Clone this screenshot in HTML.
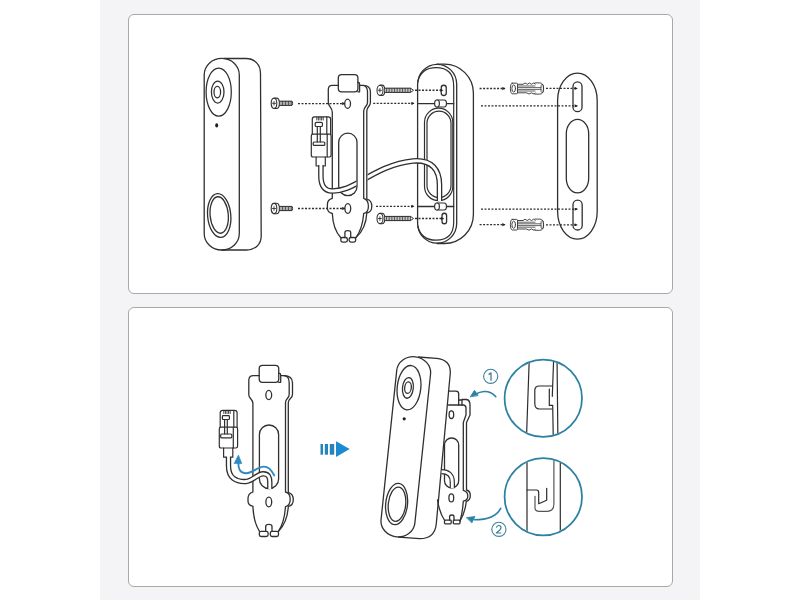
<!DOCTYPE html>
<html><head><meta charset="utf-8">
<style>
html,body{margin:0;padding:0;width:800px;height:600px;overflow:hidden;background:#fff;font-family:"Liberation Sans",sans-serif;}
#strip{position:absolute;left:100px;top:0;width:600px;height:600px;background:#f4f4f6;}
.card{position:absolute;left:128px;width:543px;height:278px;background:#fff;border:1px solid #a8a8aa;border-radius:6px;}
svg{position:absolute;left:0;top:0;}
</style></head>
<body>
<div id="strip"></div>
<div class="card" style="top:14px"></div>
<div class="card" style="top:307px"></div>
<svg width="800" height="600" viewBox="0 0 800 600" fill="none" stroke="#303030" stroke-width="1.3" stroke-linecap="round" stroke-linejoin="round">
<defs>
  <marker id="ah" viewBox="0 0 6 6" refX="5" refY="3" markerWidth="3.6" markerHeight="3.2" orient="auto" markerUnits="userSpaceOnUse">
    <path d="M0 0 L6 3 L0 6 Z" fill="#222" stroke="none"/>
  </marker>
  <g id="sscrew">
    <path d="M3 -5.2 H5.5 Q8.4 -5.2 8.4 0 Q8.4 5.2 5.5 5.2 H3" stroke-width="1.1"/>
    <ellipse cx="3" cy="0" rx="2.8" ry="5.1" stroke-width="1.1"/>
    <path d="M1.5 0 H4.5 M3 -1.8 V1.8" stroke-width="0.9"/>
    <path d="M8.4 -2.1 H21 Q21.6 -2.1 21.6 0 Q21.6 2.1 21 2.1 H8.4" stroke-width="1"/>
    <path d="M10 -2 V2 M11.5 -2 V2 M13 -2 V2 M14.5 -2 V2 M16 -2 V2 M17.5 -2 V2 M19 -2 V2 M20.4 -2 V2" stroke-width="0.8"/>
  </g>
  <g id="lscrew">
    <path d="M3.5 -5.2 H5.5 Q8.3 -5.2 8.3 0 Q8.3 5.2 5.5 5.2 H3.5" stroke-width="1.1"/>
    <ellipse cx="3.5" cy="0" rx="3" ry="5.1" stroke-width="1.1"/>
    <path d="M1.9 0 H4.9 M3.4 -1.8 V1.8" stroke-width="0.9"/>
    <path d="M8.3 -2.1 H34 L37 0 L34 2.1 H8.3" stroke-width="1"/>
    <path d="M10 -2 V2 M11.6 -2 V2 M13.2 -2 V2 M14.8 -2 V2 M16.4 -2 V2 M18 -2 V2 M19.6 -2 V2 M21.2 -2 V2 M22.8 -2 V2 M24.4 -2 V2 M26 -2 V2 M27.6 -2 V2 M29.2 -2 V2 M30.8 -2 V2 M32.4 -2 V2 M34 -2 V2" stroke-width="0.8"/>
  </g>
  <g id="anchor" stroke="#3c3c3c" stroke-width="0.95">
    <path d="M2.2 -5.3 H6.5 Q7.5 -5.3 7.5 -4 V4 Q7.5 5.3 6.5 5.3 H2.2 Q0.4 5.3 0.4 0 Q0.4 -5.3 2.2 -5.3 Z"/>
    <ellipse cx="3.7" cy="0" rx="1.8" ry="3.6"/>
    <path d="M7.5 -4.2 H13 L15.1 -5.5 L17.2 -4.2 L19.4 -5.5 L21.5 -4.2 L23.7 -5.5 L25.2 -4.4"/>
    <path d="M7.5 4.3 H16.5 L19 5.5 L21.3 4.3 L24 5.5 L25.2 4.6"/>
    <path d="M7.5 -2.5 H25 M7.5 2.5 H25" stroke-width="0.8"/>
    <path d="M25 -5.6 H29.8 Q33.6 -5.6 33.6 0 Q33.6 5.6 29.8 5.6 H25"/>
    <ellipse cx="32.2" cy="0" rx="1.3" ry="4.4" stroke-width="0.8"/>
    <path d="M7.8 -0.9 H31 M7.8 0.9 H31" stroke-width="0.8"/>
  </g>
</defs>

<!-- ============ TOP CARD ============ -->
<!-- doorbell -->
<path d="M224 58.5 H246 C254.5 58.5 260.5 64.5 260.5 73.5 L261.2 236 C261.2 244.5 255 250 246.5 250 H222"/>
<rect x="204.2" y="58.4" width="35.1" height="191.6" rx="17.55" ry="16.5"/>
<ellipse cx="218.7" cy="92.1" rx="12.6" ry="24.1" stroke-width="1.25"/>
<ellipse cx="217.7" cy="92" rx="6.3" ry="11" stroke-width="1.25"/>
<ellipse cx="217.3" cy="92.1" rx="3.3" ry="5.8" stroke-width="1.25"/>
<ellipse cx="216.7" cy="125.4" rx="1.5" ry="2.1" fill="#1e1e1e" stroke="none"/>
<ellipse cx="219.2" cy="215.5" rx="11.6" ry="22" transform="rotate(-5 219.2 215.5)"/>
<ellipse cx="219.2" cy="215" rx="9.1" ry="18.3" transform="rotate(-5 219.2 215)"/>

<!-- short screws -->
<use href="#sscrew" x="271" y="103.3"/>
<use href="#sscrew" x="271" y="208.5"/>
<g stroke-width="1.3" stroke-dasharray="2 1.5" stroke-linecap="butt">
  <path d="M298 103.6 H344.8" marker-end="url(#ah)"/>
  <path d="M298 208.5 H344.8" marker-end="url(#ah)"/>
</g>

<!-- bracket (top) -->
<g id="br1">
<path d="M338.3 85.4 H332.3 Q328.3 85.4 328.3 89.5 V102.5 C328.3 106.5 332.3 107.5 332.3 112.2 V198.3 Q327.4 199.5 327.4 204.5 V208 Q327.4 212.5 332.3 213.5 Q333 229 340.8 237.8 M355.7 237.8 Q362.5 229 363.7 213.5 Q368.4 212.5 368.4 206.5 Q368.4 199.5 363.7 198.3 V111 C363.7 106.5 367.5 106.5 367.5 102.5 V92 Q367.5 86 363 85.4 H359.6"/>
<path d="M363 85.4 Q370.4 85.4 370.4 92 V102.5 C370.4 106.5 366.8 106.5 366.8 111 V199 Q371.8 200.5 371.8 206.2 Q371.8 212 366.8 213 Q366 229 355.7 237.8"/>
<rect x="338.3" y="74.6" width="19.6" height="17.2" rx="3.3"/>
<path d="M357.9 82.5 H358.4 Q359.6 82.5 359.6 84 V91.8 H357.9"/>
<ellipse cx="347.6" cy="103.75" rx="2.9" ry="4.6"/>
<ellipse cx="347.8" cy="208.5" rx="2.9" ry="4.8"/>
<rect x="338.7" y="133.2" width="18.3" height="62.5" rx="9.15"/>
<rect x="340.8" y="237.5" width="6.6" height="4.6" rx="1.8"/>
<rect x="349.1" y="237.5" width="6.6" height="4.6" rx="1.8"/>
<path d="M344.9 237.5 V232.5 Q344.9 230.7 347.8 230.7 Q350.7 230.7 350.7 232.5 V237.5"/>
</g>

<!-- RJ45 top -->
<g stroke-width="1.2">
<path d="M312.3 134.2 V119 Q312.3 116.8 314.5 116.8 H328.4 Q330.6 116.8 330.6 119 V134.2"/>
<path d="M326.8 117 V134.2"/>
<path d="M316.8 117.3 V120 M318.4 117.3 V120 M320 117.3 V120 M321.6 117.3 V120 M323.2 117.3 V120" stroke-width="0.9"/>
<rect x="315.2" y="122.4" width="7.2" height="4.1" rx="1"/>
<path d="M317.3 126.5 V142 M320.3 126.5 V142"/>
<path d="M311.3 155 V136 Q311.3 134.2 313 134.2 H329.4 Q331.1 134.2 331.1 136 V155 Q331.1 157 329.4 157 H313 Q311.3 157 311.3 155 Z"/>
<path d="M327.2 134.4 V156.8"/>
<rect x="313.2" y="142" width="11.6" height="3.4" rx="1"/>
<path d="M316.1 157 V166 M325.3 157 V166 M316.1 166 H325.3" stroke-width="1.2"/>
</g>

<!-- long screws -->
<use href="#lscrew" x="376.5" y="90.3"/>
<use href="#lscrew" x="376.5" y="218.5"/>
<g stroke-width="1.3" stroke-dasharray="2 1.5" stroke-linecap="butt">
  <path d="M373.2 103.4 H414" marker-end="url(#ah)"/>
  <path d="M376 206.3 H414" marker-end="url(#ah)"/>
  <path d="M415 90.25 H443" marker-end="url(#ah)"/>
  <path d="M415 218.5 H443.5" marker-end="url(#ah)"/>
</g>

<!-- wedge -->
<path d="M437 64.2 H444.5 A29 29 0 0 1 473.4 93 V214.5 A29 29 0 0 1 444.5 243.5 H437"/>
<rect x="417.6" y="64.3" width="39.1" height="178.9" rx="19.55" ry="20"/>
<path d="M417.8 82 Q421 67.7 436 67.7 Q453.7 67.7 453.7 86 V222 Q453.7 240.2 436 240.2 Q421 240.2 417.8 226" stroke-width="1.2"/>
<path d="M417.6 103.7 H453.7 M417.6 206.5 H453.7"/>
<rect x="424.5" y="108.2" width="28.3" height="92.4" rx="14.15" stroke-width="1.2"/>
<rect x="427" y="111.2" width="24" height="86.3" rx="12" stroke-width="1.2"/>
<rect x="441.25" y="85.25" width="5" height="10.25" rx="2.5"/>
<rect x="442" y="213.25" width="4.6" height="10.5" rx="2.3"/>
<!-- cable top -->
<clipPath id="cc"><path d="M0 0 H356.4 V600 H0 Z M367.6 0 H800 V600 H367.6 Z"/></clipPath>
<g clip-path="url(#cc)">
<path d="M320.9 165 V176 C320.9 186 325 191.5 333 191 C345 190.5 352 186 361 181 C375 173 392 163 413 161 C432 159.5 439.5 170 439.5 185 V201" stroke-width="5.6" stroke-linecap="butt"/>
<path d="M320.9 164 V176 C320.9 186 325 191.5 333 191 C345 190.5 352 186 361 181 C375 173 392 163 413 161 C432 159.5 439.5 170 439.5 185 V201" stroke="#fff" stroke-width="3" stroke-linecap="butt"/>
</g>

<!-- pegs -->
<g stroke-width="1.2">
<path d="M437 100 H444 Q446.5 100 446.5 103.5 Q446.5 107 444 107 H437" fill="#fff"/>
<ellipse cx="437" cy="103.5" rx="2.4" ry="3.5" fill="#fff"/>
<path d="M437 203 H444 Q446.5 203 446.5 206.5 Q446.5 210 444 210 H437" fill="#fff"/>
<ellipse cx="437" cy="206.5" rx="2.4" ry="3.5" fill="#fff"/>
</g>

<!-- anchors -->
<use href="#anchor" x="510" y="88.5"/>
<use href="#anchor" x="510" y="224.7"/>
<g stroke-width="1.3" stroke-dasharray="2 1.5" stroke-linecap="butt">
  <path d="M479.6 88.5 H505" marker-end="url(#ah)"/>
  <path d="M479.6 224.7 H505" marker-end="url(#ah)"/>
  <path d="M546 88.4 H577.3" marker-end="url(#ah)"/>
  <path d="M546 224.9 H577.3" marker-end="url(#ah)"/>
  <path d="M481 105.9 H577.3" marker-end="url(#ah)"/>
  <path d="M481 209.1 H577.3" marker-end="url(#ah)"/>
</g>

<!-- wall plate -->
<rect x="557.6" y="73.1" width="39.6" height="166" rx="19.8" ry="27.5"/>
<rect x="573" y="81.9" width="9" height="29.8" rx="4.5"/>
<rect x="566.3" y="119.3" width="22.4" height="73.5" rx="11.2" ry="14.5"/>
<rect x="573" y="200.2" width="9.2" height="29.8" rx="4.6"/>

<!-- ============ BOTTOM CARD ============ -->
<!-- bracket bottom-left -->
<path d="M259.2 375.7 H253.5 Q248.8 375.7 248.8 380.5 V394.8 C248.8 398.5 252.9 399 252.9 403.3 V492 Q248 493.5 248 498.5 V501 Q248 505.5 252.9 506.2 Q253.5 522 259.5 531.3 M278.5 531.3 Q284.5 522 285.5 506.6 Q290.2 505.5 290.2 499.3 Q290.2 493 285.5 492 V402.5 C285.5 398.5 289.2 398.5 289.2 394.5 V383 Q289.2 375.7 284 375.7 H280.7"/>
<path d="M284 375.7 Q292.5 375.7 292.5 383 V394.5 C292.5 398.5 288.3 398.5 288.3 402.5 V492.4 Q293.3 494 293.3 499.5 Q293.3 505.5 288.3 506.4 Q287.5 522 278.5 531.3"/>
<rect x="259.2" y="365.4" width="19.55" height="16.9" rx="3.3"/>
<path d="M278.75 373.3 H279.5 Q280.7 373.3 280.7 375 V382.3 H278.75"/>
<ellipse cx="268.75" cy="395" rx="2.9" ry="4.6"/>
<ellipse cx="268.8" cy="502" rx="2.9" ry="4.8"/>
<rect x="259.4" y="425" width="19.2" height="63.6" rx="9.6"/>
<rect x="259.3" y="531.3" width="8.8" height="5.2" rx="1.8"/>
<rect x="270.3" y="531.3" width="8.2" height="5.2" rx="1.8"/>
<path d="M265.7 531.3 V526.5 Q265.7 524.4 268.85 524.4 Q272 524.4 272 526.5 V531.3"/>

<!-- RJ45 bottom -->
<g stroke-width="1.2">
<path d="M220.2 427.2 V412.8 Q220.2 410.3 222.7 410.3 H234.6 Q237.1 410.3 237.1 412.8 V427.2"/>
<path d="M233.8 410.5 V427.2"/>
<path d="M223.8 410.8 V413.5 M225.4 410.8 V413.5 M227 410.8 V413.5 M228.6 410.8 V413.5 M230.2 410.8 V413.5" stroke-width="0.9"/>
<rect x="222.4" y="415.6" width="7" height="3.9" rx="0.8"/>
<path d="M224.6 419.5 V434 M227.3 419.5 V434"/>
<path d="M219.3 446 V429 Q219.3 427.2 221 427.2 H235.9 Q237.6 427.2 237.6 429 V446 Q237.6 448 235.9 448 H221 Q219.3 448 219.3 446 Z"/>
<path d="M233.3 427.4 V447.8"/>
<rect x="220.7" y="434" width="11.1" height="3.9" rx="1"/>
<path d="M223.6 448 V457.2 M232.8 448 V457.2 M223.6 457.2 H232.8"/>
</g>
<!-- cable bottom -->
<path d="M228.5 457 V466 C228.5 478 236 482 246 481.5 C253 481 257 474 263 473.8 C268 473.6 269.8 477 269.8 482 V489" stroke-width="5.4" stroke-linecap="butt"/>
<path d="M228.5 456 V466 C228.5 478 236 482 246 481.5 C253 481 257 474 263 473.8 C268 473.6 269.8 477 269.8 482 V489" stroke="#fff" stroke-width="2.8" stroke-linecap="butt"/>
<!-- blue arrow in bracket -->
<path d="M274.2 475.4 C271 469 267 466.5 263.7 466.6 C257 467 253 473 246.2 473.2 C240 473.5 238.2 469 238.3 462" stroke="#2f89c0" stroke-width="1.9"/>
<path d="M234.3 463.2 L238.4 455.2 L241.6 463.2 Z" fill="#2f89c0" stroke="#2f89c0" stroke-width="0.8"/>

<!-- middle arrow -->
<g fill="#2585bb" stroke="none">
<rect x="320.5" y="444" width="2.5" height="10.7"/>
<rect x="324.8" y="444" width="3.2" height="10.7"/>
<rect x="329.8" y="444" width="4.4" height="10.7"/>
<path d="M336 441.2 L349.7 449 L336 456.9 Z" fill="#1b8acf"/>
</g>

<!-- tilted doorbell -->
<path d="M418.3 357 L436.6 358.4 C445.5 359.2 450.6 364 450.3 373 L436.2 524.5 C435 534 429 538.8 419.5 538.7 L398.5 537.2"/>
<rect x="388.8" y="356.3" width="34" height="181" rx="17" ry="15.5" transform="rotate(6 405.8 446.8)"/>
<ellipse cx="409" cy="387.7" rx="11.8" ry="22.3" transform="rotate(6 409 387.7)"/>
<ellipse cx="407.9" cy="387.9" rx="5.4" ry="10.4" transform="rotate(6 407.9 387.9)"/>
<ellipse cx="408" cy="387.6" rx="3.3" ry="5.8" transform="rotate(6 408 387.6)"/>
<circle cx="404.2" cy="418.8" r="1.6" fill="#1e1e1e" stroke="none"/>
<ellipse cx="396.6" cy="504" rx="10.9" ry="20.8" transform="rotate(6 396.6 504)"/>
<ellipse cx="397" cy="504.2" rx="8.7" ry="17.2" transform="rotate(6 397 504.2)"/>

<!-- bracket on doorbell -->
<path d="M448.5 391.2 H455.8 Q458.7 391.2 458.7 394 V405 H448.5"/>
<path d="M458.7 400 H462 V405 H458.7"/>
<path d="M462 399.5 H466.5 Q470 400 470 405 V415 L466.5 422.5 V490 Q470.3 491 470.3 495.5 Q470.3 500.5 466.3 501.3 Q465 513 460 521"/>
<path d="M462 405 H463.5 Q466 405.5 466 408 V415 L463.3 422.5 V490.3 Q467.8 491.5 467.8 496 Q467.8 500.5 463.3 501.2 Q462.5 513 460 521"/>
<ellipse cx="451.4" cy="414.7" rx="2.3" ry="3.8"/>
<ellipse cx="451.3" cy="497.9" rx="2.4" ry="4"/>
<rect x="444.5" y="438" width="14.2" height="49.9" rx="7.1"/>
<path d="M437.5 500 Q439.5 513 444.7 520.5"/>
<rect x="444.5" y="520.2" width="6.7" height="3.6" rx="0.8"/>
<rect x="453.3" y="520.2" width="6.7" height="3.6" rx="0.8"/>
<path d="M449.6 520.2 V516.8 Q449.6 515 451.8 515 Q454 515 454 516.8 V520.2"/>
<path d="M441.6 471.6 C448 471.6 452.3 475 452.3 482 V488.3" stroke-width="5.3" stroke-linecap="butt"/>
<path d="M441.6 471.6 C448 471.6 452.3 475 452.3 482 V488.3" stroke="#fff" stroke-width="2.9" stroke-linecap="butt"/>

<!-- blue arrows + labels -->
<g stroke="#2c80a5" stroke-width="1.6">
<path d="M495.75 396.6 C492 392.5 487.5 391.3 484 391.5 C480.5 391.8 478 392.8 475.5 394.3"/>
<path d="M470.4 396.6 L474.5 390.3 L477.9 395.3 Z" fill="#2c80a5" stroke-width="0.8"/>
<path d="M500.7 508.3 C497.5 514.5 490 519.8 474.5 519.8"/>
<path d="M466.7 517.6 L475 516.6 L472 522.6 Z" fill="#2c80a5" stroke-width="0.8"/>
</g>
<g stroke="#3d8099" stroke-width="1.1">
<circle cx="490.7" cy="376.3" r="7.1"/>
<circle cx="498.9" cy="529.3" r="7.1"/>
<path d="M488.6 374.6 L491 372.9 V380.8" stroke-width="1.3" stroke-linecap="butt"/>
<path d="M496.4 527.6 Q496.8 525.5 498.8 525.5 Q501 525.5 501 527.6 Q501 529 499.5 530.3 L496.3 533 H501.3" stroke-width="1.2" stroke-linecap="butt"/>
</g>
<!-- magnifier circles -->
<clipPath id="c1"><circle cx="543.3" cy="398.3" r="38"/></clipPath>
<clipPath id="c2"><circle cx="543.3" cy="496.7" r="38"/></clipPath>
<g stroke="#2b2b2b" stroke-width="1.2" clip-path="url(#c1)">
<path d="M529.4 355 L526.4 440 M553.8 355 L552.3 396.3 M557 355 L557.9 440"/>
<path d="M552.3 386 H539.3 Q534.8 386 534.8 390.5 V403.5 Q534.8 409 539.5 409 H551.7"/>
<path d="M549.3 389 V405.4 H552.7 L553.3 440"/>
</g>
<g stroke="#2b2b2b" stroke-width="1.2" clip-path="url(#c2)">
<path d="M527 455 V540 M560.3 455 V540"/>
<path d="M527 490 H536.5 Q538.7 490 538.7 492.5 V503.7 L546.7 500.3 V488.3"/>
<path d="M535 496.3 V508 Q535 511.3 539.5 511.3 H546.7 Q553.9 511.3 553.9 504 V455" stroke="#555"/>
</g>
<circle cx="543.3" cy="398.3" r="38.7" stroke="#2c80a2" stroke-width="1.75"/>
<circle cx="543.3" cy="496.7" r="38.7" stroke="#2c80a2" stroke-width="1.75"/>
</svg>
</body></html>
